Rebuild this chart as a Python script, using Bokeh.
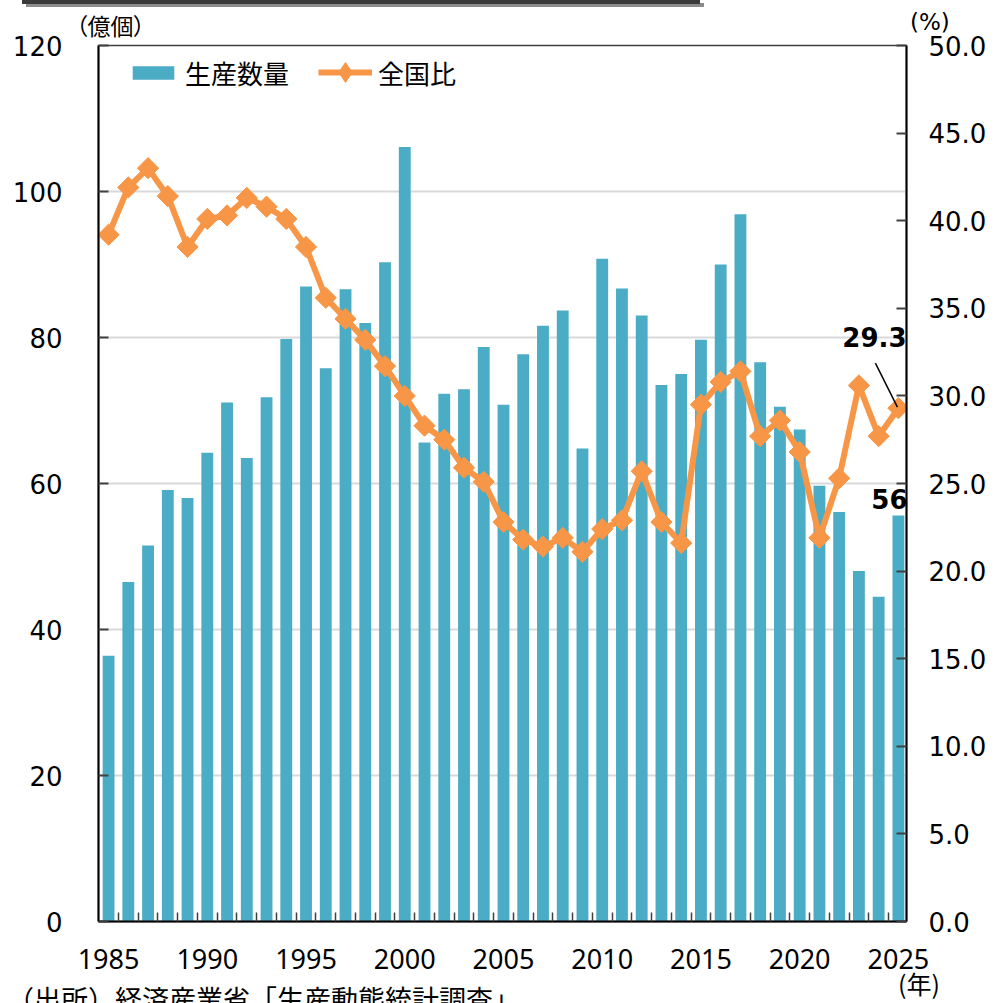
import math
from bokeh.plotting import figure
from bokeh.layouts import column
from bokeh.models import (Range1d, LinearAxis, FixedTicker, Legend, LegendItem,
                          Label, PrintfTickFormatter, Div)
from bokeh.embed import file_html
from bokeh.resources import INLINE

# ---- data ----
years = list(range(1985, 2026))
production = [36.4, 46.5, 51.5, 59.1, 58.0, 64.2, 71.1, 63.5, 71.8, 79.8,
              87.0, 75.8, 86.6, 82.0, 90.3, 106.1, 65.6, 72.3, 72.9, 78.7,
              70.8, 77.7, 81.6, 83.7, 64.8, 90.8, 86.7, 83.0, 73.5, 75.0,
              79.7, 90.0, 96.9, 76.6, 70.5, 67.4, 59.7, 56.1, 48.0, 44.5, 55.6]
share = [39.2, 41.9, 43.0, 41.4, 38.5, 40.1, 40.3, 41.3, 40.8, 40.1,
         38.5, 35.6, 34.4, 33.2, 31.7, 30.0, 28.3, 27.5, 25.9, 25.1,
         22.8, 21.8, 21.4, 21.9, 21.1, 22.4, 22.9, 25.7, 22.8, 21.6,
         29.5, 30.8, 31.4, 27.7, 28.6, 26.8, 21.9, 25.3, 30.6, 27.7, 29.3]
x_tick_labels = [1985, 1990, 1995, 2000, 2005, 2010, 2015, 2020, 2025]
left_ticks = [0, 20, 40, 60, 80, 100, 120]
right_ticks = [0, 5, 10, 15, 20, 25, 30, 35, 40, 45, 50]
legend_labels = ["生産数量", "全国比"]
left_unit = "（億個）"
right_unit = "(%)"
x_unit = "(年)"
source_note = "（出所）経済産業省「生産動態統計調査」"

BAR = "#4BACC6"
ORANGE = "#F79646"
JP = "Noto Sans CJK JP"
NUM = "DejaVu Sans"

W = 1000
TOP_DIV = 30
H = 960
BOT_DIV = 10
BL, BR, BT = 98, 94, 15
FW, FH = 808, 876
BB = H - BT - FH
FIG_BOTTOM = TOP_DIV + H

x0, x1 = 1984.49, 2025.41
p = figure(width=W, height=H, output_backend="svg", toolbar_location=None,
           x_range=Range1d(x0, x1), y_range=Range1d(0, 120),
           min_border_left=BL, min_border_right=BR, min_border_top=BT,
           min_border_bottom=BB, background_fill_color="white",
           border_fill_alpha=0)
p.extra_y_ranges = {"pct": Range1d(0, 50)}

bars = p.vbar(x=years, top=production, width=0.6, fill_color=BAR, line_color=None)
# diamond markers (same data) lying under the rotated squares; they give the
# legend its diamond symbol
diamonds = p.scatter(years, share, y_range_name="pct", marker="diamond", size=18,
                     fill_color=ORANGE, line_color=ORANGE)
line = p.line(years, share, y_range_name="pct", line_color=ORANGE, line_width=6,
              line_join="round")
pts = p.scatter(years, share, y_range_name="pct", marker="square",
                angle=math.pi / 4, size=15, fill_color=ORANGE, line_color=ORANGE)

# x axis
xa = p.xaxis[0]
xa.ticker = FixedTicker(ticks=x_tick_labels, minor_ticks=[y + 0.5 for y in years[:-1]])
xa.major_tick_line_color = None
xa.minor_tick_in = 9
xa.minor_tick_out = 0
xa.minor_tick_line_color = "#404040"
xa.minor_tick_line_width = 1.5
xa.axis_line_color = "black"
xa.axis_line_width = 2
xa.major_label_text_font = "Noto Sans"
xa.major_label_text_font_size = "27px"
xa.major_label_text_color = "black"
xa.major_label_standoff = 21

# left axis
ya = p.yaxis[0]
ya.ticker = FixedTicker(ticks=left_ticks)
ya.major_tick_in = 10
ya.major_tick_out = 0
ya.major_tick_line_color = "#404040"
ya.major_tick_line_width = 2
ya.minor_tick_line_color = None
ya.axis_line_color = "black"
ya.axis_line_width = 2
ya.major_label_text_font = NUM
ya.major_label_text_font_size = "26px"
ya.major_label_text_color = "black"
ya.major_label_standoff = 36

# right axis
ra = LinearAxis(y_range_name="pct", ticker=FixedTicker(ticks=right_ticks),
                formatter=PrintfTickFormatter(format="%.1f"))
ra.major_tick_in = 10
ra.major_tick_out = 0
ra.major_tick_line_color = "#404040"
ra.major_tick_line_width = 2
ra.minor_tick_line_color = None
ra.axis_line_color = "black"
ra.axis_line_width = 2
ra.major_label_text_font = NUM
ra.major_label_text_font_size = "26px"
ra.major_label_text_color = "black"
ra.major_label_standoff = 22
p.add_layout(ra, "right")

# grid
p.xgrid.visible = False
p.ygrid.ticker = FixedTicker(ticks=left_ticks)
p.ygrid.grid_line_color = "#d9d9d9"
p.ygrid.grid_line_width = 2
p.outline_line_color = "#404040"
p.outline_line_width = 1.5

# legends
common = dict(orientation="horizontal", padding=0, margin=0,
              border_line_color=None, background_fill_alpha=0,
              label_text_font=JP, label_text_font_size="26px",
              label_text_color="black", label_standoff=6)
leg_a = Legend(items=[LegendItem(label=legend_labels[0], renderers=[bars])],
               location=(29, FH - 46), glyph_width=52, glyph_height=17, **common)
leg_b = Legend(items=[LegendItem(label=legend_labels[1], renderers=[line, diamonds])],
               location=(220, FH - 52), glyph_width=54, glyph_height=50, **common)
p.add_layout(leg_a)
p.add_layout(leg_b)

# value annotations
px_per_year = FW / (x1 - x0)
px_per_pct = FH / 50.0
last_year, last_prod, last_share = years[-1], production[-1], share[-1]
p.add_layout(Label(x=last_year, y=last_prod, text=f"{round(last_prod)}",
                   text_align="center", text_baseline="alphabetic",
                   x_offset=-9, y_offset=17, text_font=NUM,
                   text_font_style="bold", text_font_size="26px",
                   text_color="black"))
p.add_layout(Label(x=last_year, y=last_share, y_range_name="pct",
                   text=f"{last_share:.1f}", text_align="center",
                   text_baseline="alphabetic", x_offset=-24, y_offset=71,
                   text_font=NUM, text_font_style="bold", text_font_size="26px",
                   text_color="black"))
p.segment(x0=[last_year - 23 / px_per_year], y0=[last_share + 45 / px_per_pct],
          x1=[last_year - 1 / px_per_year], y1=[last_share + 1 / px_per_pct],
          y_range_name="pct", line_color="black", line_width=1.5)

# texts outside the plot area
span = ('position:absolute;white-space:nowrap;color:black;')
top_html = (
    f'<div style="position:relative;width:{W}px;height:{TOP_DIV}px;overflow:visible;">'
    '<div style="position:absolute;left:22px;top:0px;width:678px;height:4px;'
    'background:#3a3a3a;box-shadow:4px 3px 0 #8c8c8c;"></div>'
    f'<span style="{span}left:76px;top:14px;font-family:\'{JP}\';font-size:23px;'
    f'line-height:23px;font-feature-settings:\'palt\' 1;">{left_unit}</span>'
    f'<span style="{span}left:910px;top:11px;font-family:\'{NUM}\';font-size:23px;'
    f'line-height:23px;">{right_unit}</span>'
    '</div>')
bot_html = (
    f'<div style="position:relative;width:{W}px;height:{BOT_DIV}px;overflow:visible;">'
    f'<span style="{span}left:898px;top:{969 - FIG_BOTTOM}px;font-family:\'{JP}\';'
    f'font-size:25px;line-height:25px;">{x_unit}</span>'
    f'<span style="{span}left:7px;top:{983 - FIG_BOTTOM}px;font-family:\'{JP}\';'
    f'font-size:27px;line-height:27px;">{source_note}</span>'
    '</div>')
top_div = Div(text=top_html, width=W, height=TOP_DIV, margin=0,
              styles={"overflow": "visible"})
bot_div = Div(text=bot_html, width=W, height=BOT_DIV, margin=0,
              styles={"overflow": "visible"})

layout = column(top_div, p, bot_div, spacing=0)
open("out.html", "w").write(file_html(layout, INLINE))
